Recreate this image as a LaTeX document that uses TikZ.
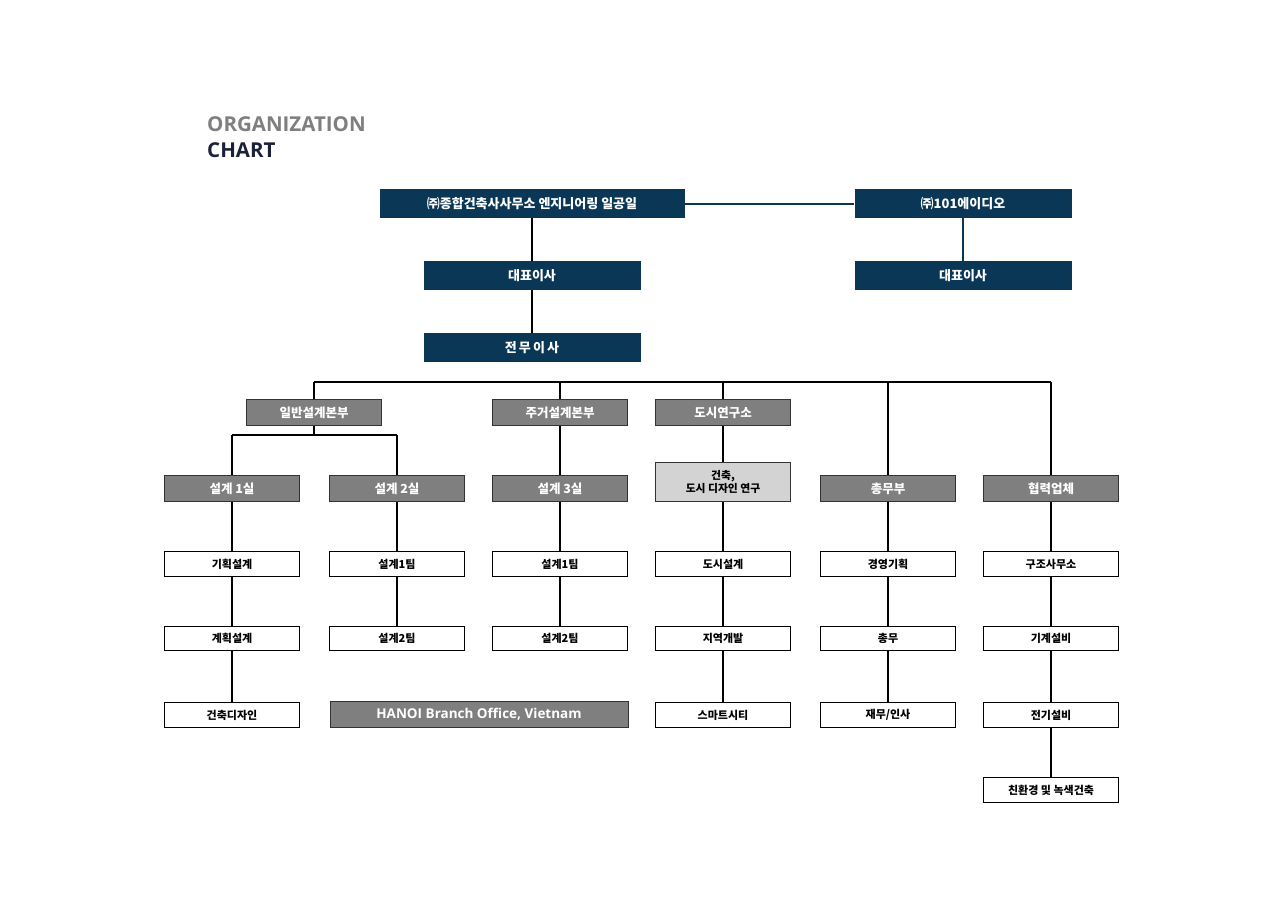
\documentclass[tikz,border=0pt]{standalone}
\usepackage{fontspec}
\setmainfont{Noto Sans CJK KR}
\newfontfamily\titlefont{Open Sans}
\definecolor{navy}{HTML}{0B3756}
\definecolor{midgray}{HTML}{7F7F7F}
\definecolor{lightgray}{HTML}{D3D3D3}
\definecolor{titlenavy}{HTML}{1B2138}
\begin{document}
\begin{tikzpicture}[x=1pt,y=-1pt,
  navybox/.style={fill=navy,text=white,font=\bfseries\fontsize{13}{15}\selectfont,inner sep=0pt,anchor=north,minimum width=217pt,minimum height=29pt},
  graybox/.style={fill=midgray,draw=black!80,line width=0.8pt,text=white,font=\bfseries\fontsize{12.5}{14}\selectfont,inner sep=0pt,anchor=north,minimum width=135pt,minimum height=26pt},
  lgraybox/.style={fill=lightgray,draw=black!80,line width=0.8pt,text=black,font=\bfseries\fontsize{10.8}{12.5}\selectfont,inner sep=0pt,anchor=north,align=center,minimum width=135pt,minimum height=39pt},
  whitebox/.style={fill=white,draw=black,line width=0.8pt,text=black,font=\bfseries\fontsize{11}{13}\selectfont,inner sep=0pt,anchor=north,minimum width=135pt,minimum height=25pt},
  conn/.style={line width=1.8pt,black},
  thinconn/.style={line width=1.6pt,navy}]
\useasboundingbox (0,0) rectangle (1285,907);
\fill[white] (0,0) rectangle (1285,907);
% title
\node[anchor=west,font=\titlefont\bfseries\fontsize{20.5}{22}\selectfont,text=midgray,inner sep=0pt] (t1) at (207,124) {ORGANIZATION};
\node[anchor=west,font=\titlefont\bfseries\fontsize{20.5}{22}\selectfont,text=titlenavy,inner sep=0pt] (t2) at (207,150) {CHART};
\coordinate (bL) at (314,382);
\coordinate (bR) at (1051,382);
\coordinate (sL) at (232,435);
\coordinate (sR) at (397,435);
% top
\node[navybox,minimum width=305pt] (co) at (532,189) {㈜종합건축사사무소 엔지니어링 일공일};
\node[navybox] (co2) at (963,189) {㈜101에이디오};
\node[navybox] (ceo) at (532,261) {대표이사};
\node[navybox] (ceo2) at (963,261) {대표이사};
\node[navybox] (md) at (532,333) {전\,무\,이\,사};
% row 2
\node[graybox] (d1) at (314,399) {일반설계본부};
\node[graybox] (d2) at (560,399) {주거설계본부};
\node[graybox] (d3) at (723,399) {도시연구소};
% row 3
\node[graybox] (r1) at (232,475) {설계 1실};
\node[graybox] (r2) at (397,475) {설계 2실};
\node[graybox] (r3) at (560,475) {설계 3실};
\node[lgraybox] (r4) at (723,462) {건축,\\도시 디자인 연구};
\node[graybox] (r5) at (888,475) {총무부};
\node[graybox] (r6) at (1051,475) {협력업체};
% row 4
\node[whitebox] (a1) at (232,551) {기획설계};
\node[whitebox] (a2) at (397,551) {설계1팀};
\node[whitebox] (a3) at (560,551) {설계1팀};
\node[whitebox] (a4) at (723,551) {도시설계};
\node[whitebox] (a5) at (888,551) {경영기획};
\node[whitebox] (a6) at (1051,551) {구조사무소};
% row 5
\node[whitebox,minimum height=24pt] (b1) at (232,626) {계획설계};
\node[whitebox,minimum height=24pt] (b2) at (397,626) {설계2팀};
\node[whitebox,minimum height=24pt] (b3) at (560,626) {설계2팀};
\node[whitebox,minimum height=24pt] (b4) at (723,626) {지역개발};
\node[whitebox,minimum height=24pt] (b5) at (888,626) {총무};
\node[whitebox,minimum height=24pt] (b6) at (1051,626) {기계설비};
% row 6
\node[whitebox] (c1) at (232,702) {건축디자인};
\node[graybox,minimum width=298pt,font=\titlefont\bfseries\fontsize{13.5}{15}\selectfont] (hanoi) at (479,701) {HANOI Branch Office, Vietnam};
\node[whitebox] (c4) at (723,702) {스마트시티};
\node[whitebox] (c5) at (888,702) {재무/인사};
\node[whitebox] (c6) at (1051,702) {전기설비};
% row 7
\node[whitebox] (e6) at (1051,777) {친환경 및 녹색건축};
% connectors
\draw[thinconn] ([yshift=-0.5pt]co.east) -- ([yshift=-0.5pt]co2.west);
\draw[conn] (co.south) -- (ceo.north);
\draw[conn] (ceo.south) -- (md.north);
\draw[thinconn] (co2.south) -- (ceo2.north);
\draw[conn] (bL) -- (bR);
\draw[conn] (bL) -- (d1.north);
\draw[conn] (d2.north |- bL) -- (d2.north);
\draw[conn] (d3.north |- bL) -- (d3.north);
\draw[conn] (r5.north |- bL) -- (r5.north);
\draw[conn] (bR) -- (r6.north);
\draw[conn] (d1.south) -- (d1.south |- sL);
\draw[conn] (sL) -- (sR);
\draw[conn] (sL) -- (r1.north);
\draw[conn] (sR) -- (r2.north);
\draw[conn] (d2.south) -- (r3.north);
\draw[conn] (d3.south) -- (r4.north);
\draw[conn] (r1.south) -- (a1.north);
\draw[conn] (a1.south) -- (b1.north);
\draw[conn] (b1.south) -- (c1.north);
\draw[conn] (r2.south) -- (a2.north);
\draw[conn] (a2.south) -- (b2.north);
\draw[conn] (r3.south) -- (a3.north);
\draw[conn] (a3.south) -- (b3.north);
\draw[conn] (r4.south) -- (a4.north);
\draw[conn] (a4.south) -- (b4.north);
\draw[conn] (b4.south) -- (c4.north);
\draw[conn] (r5.south) -- (a5.north);
\draw[conn] (a5.south) -- (b5.north);
\draw[conn] (b5.south) -- (c5.north);
\draw[conn] (r6.south) -- (a6.north);
\draw[conn] (a6.south) -- (b6.north);
\draw[conn] (b6.south) -- (c6.north);
\draw[conn] (c6.south) -- (e6.north);
\end{tikzpicture}
\end{document}
